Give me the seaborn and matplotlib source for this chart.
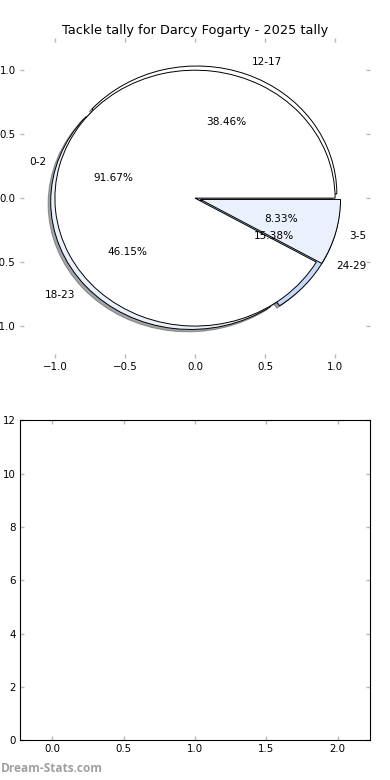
import matplotlib
matplotlib.use("Agg")
import matplotlib.pyplot as plt
import seaborn as sns

# ---- data ----
title = "Tackle tally for Darcy Fogarty - 2025 tally"
labels_a = ["0-2", "3-5"]
values_a = [11, 1]
explode_a = [0.0, 0.04]
labels_b = ["12-17", "18-23", "24-29"]
values_b = [5, 6, 2]
explode_b = [0.035, 0.04, 0.04]
wedge_colors = ["#ffffff", "#eaf1fc", "#c6d9f8"]
pie_ticks = [-1.0, -0.5, 0.0, 0.5, 1.0]
bottom_xticks = [0.0, 0.5, 1.0, 1.5, 2.0]
bottom_yticks = [0, 2, 4, 6, 8, 10, 12]
watermark = "Dream-Stats.com"

sns.set_style("white")
plt.rcParams["font.family"] = ["DejaVu Sans"]
plt.rcParams["text.color"] = "black"

fig, (ax1, ax2) = plt.subplots(2, 1, figsize=(3.9, 7.8), dpi=100)
fig.subplots_adjust(left=0.051, right=0.949, bottom=0.051, top=0.951, hspace=0.195)

# shadow offset (applied in data units after points->pixels scaling)
shadow = {"ox": -0.0135, "oy": -0.0135, "shade": 0.7}
txt = {"fontsize": 7.6, "color": "black"}
wp = {"edgecolor": "black", "linewidth": 0.7}

ax1.pie(values_b, labels=labels_b, explode=explode_b, colors=wedge_colors[:3],
        autopct="%1.2f%%", shadow=shadow, textprops=txt, wedgeprops=wp)
ax1.pie(values_a, labels=labels_a, explode=explode_a, colors=wedge_colors[:2],
        autopct="%1.2f%%", shadow=shadow, textprops=txt, wedgeprops=wp)
ax1.set_aspect("auto")
ax1.set_xlim(-1.25, 1.25)
ax1.set_ylim(-1.25, 1.25)
ax1.set_xticks(pie_ticks)
ax1.set_yticks(pie_ticks)
ax1.set_title(title, fontsize=9.3, pad=3, color="black")

ax2.set_xlim(-0.228, 2.228)
ax2.set_ylim(0, 12)
ax2.set_xticks(bottom_xticks)
ax2.set_yticks(bottom_yticks)
for s in ax2.spines.values():
    s.set_color("black")
    s.set_linewidth(0.8)
    s.set_visible(True)

for ax in (ax1, ax2):
    ax.tick_params(direction="in", length=3, width=1, color="#b8b8b8",
                   labelsize=7.4, labelcolor="black", top=True, right=True,
                   bottom=True, left=True, pad=3)

fig.text(0.002, 0.006, watermark, fontsize=8.6, color="#a0a0a0",
         fontfamily="Open Sans", fontweight="bold", ha="left", va="bottom")

fig.savefig("out.png", dpi=100)
